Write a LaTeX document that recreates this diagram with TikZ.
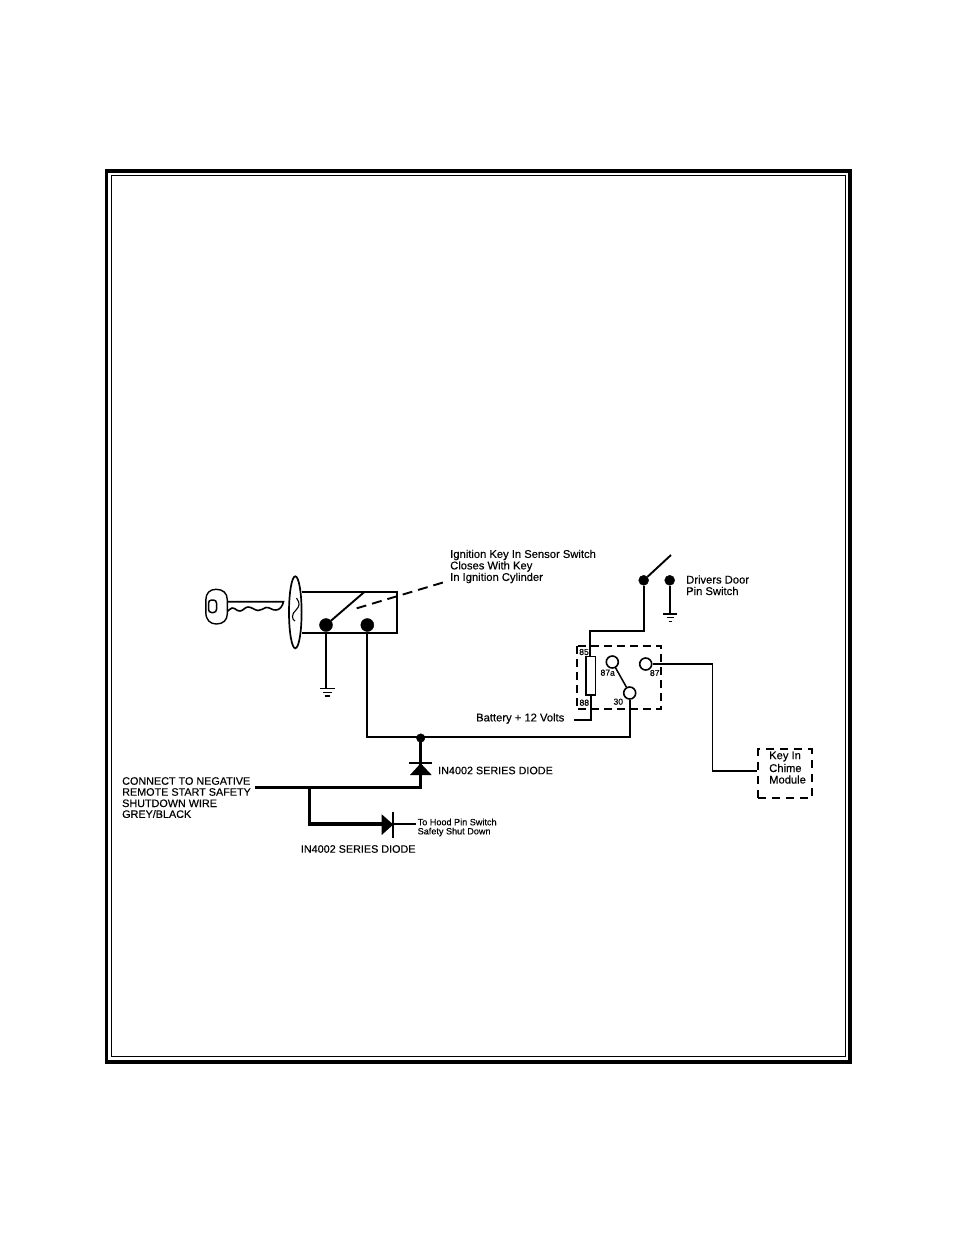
\documentclass[tikz,border=0pt]{standalone}
\usepackage{fontspec}
\setmainfont[FakeBold=0.3]{Liberation Sans}
\begin{document}
\begin{tikzpicture}[x=1pt,y=-1pt,
  wire/.style={draw=black,line width=1.9pt,line join=miter},
  heavy/.style={draw=black,line width=3.2pt,line join=miter},
  thin wire/.style={draw=black,line width=1.5pt},
  bigdot/.style={circle,fill=black,draw=black,inner sep=0,minimum size=13pt},
  smalldot/.style={circle,fill=black,draw=black,inner sep=0,minimum size=10pt},
  contact/.style={circle,fill=white,draw=black,line width=1.6pt,inner sep=0,minimum size=12pt},
  lbl/.style={inner sep=0,anchor=west,font=\fontsize{11.2}{12}\selectfont},
  capslbl/.style={inner sep=0,anchor=west,font=\fontsize{10.8}{12}\selectfont},
  lblsmall/.style={inner sep=0,anchor=west,font=\fontsize{9.1}{10}\selectfont},
  pinlbl/.style={inner sep=0,font=\fontsize{8.6}{10}\selectfont},
  ground/.style={draw=black,line width=1.4pt}]
\useasboundingbox (0,0) rectangle (954,1235);
% frame
\draw[line width=3.5pt] (106.5,171) rectangle (850,1062);
\draw[line width=1pt] (111,175) rectangle (845,1056);

% key
\draw[line width=1.4pt,fill=white]
  (216,589.3) .. controls (223,589.3) and (227.3,593) .. (227.3,600)
  -- (227.3,614) .. controls (227.3,620) and (223,624) .. (216.5,624)
  .. controls (210,624) and (205.8,620) .. (205.8,612)
  -- (205.8,600) .. controls (205.8,593) and (210,589.3) .. (216,589.3) -- cycle;
\draw[line width=1.5pt,rounded corners=3pt] (208.5,600) rectangle (216.5,612.5);
\draw[line width=1.6pt] (227.3,601.7) -- (283.5,601.7)
  .. controls (282.5,606) and (280,610) .. (276,610)
  .. controls (272,610.5) and (270,607) .. (266,607.5)
  .. controls (263,608) and (261,611) .. (258,610.5)
  .. controls (254,610) and (252,607) .. (248,607)
  .. controls (245,607) and (243,611) .. (240,611)
  .. controls (236,611) and (236,608) .. (232,608)
  .. controls (230,608) and (229,611) .. (227.3,611.5);

% ignition cylinder
\draw[line width=1.7pt,fill=white] (295.3,612.3) ellipse [x radius=6.3,y radius=36];
\draw[line width=1.1pt] (296.5,598) .. controls (300,603) and (300,606) .. (296,610)
  .. controls (291,614) and (292,620) .. (295,621);
\draw[line width=1.8pt] (302,592) -- (396.7,592) -- (396.7,633.3) -- (302,633.3);

% ignition switch
\node[bigdot] (ig1) at (326,625) {};
\node[bigdot] (ig2) at (367.3,625) {};
\coordinate (igtop) at (364.3,592);
\draw[wire] (ig1) -- (igtop);
\coordinate (igdashA) at (356.7,608.3);
\coordinate (igdashB) at (448,581);
\draw[line width=1.9pt,dash pattern=on 10pt off 6pt] (igdashA) -- (igdashB);

% ignition ground
\coordinate (gnd1) at (326,688.5);
\draw[thin wire] (ig1) -- (gnd1);
\draw[ground] (320,688.5) -- (335,688.5);
\draw[ground] (323,692.5) -- (332,692.5);
\draw[ground] (324.5,695.8) -- (330,695.8);

% main bus
\coordinate (busL) at (367.3,737);
\node[smalldot,minimum size=8.5pt] (junc) at (420.7,738) {};
\node[contact] (c30) at (629.7,693) {};
\coordinate (busR) at (629.7,737);
\draw[wire] (ig2) -- (busL) -- (busR) -- (c30);

% diode 1
\coordinate (d1bend) at (420.7,787.7);
\coordinate (wireL) at (255,787.7);
\coordinate (branch) at (309.3,787.7);
\draw[heavy] (junc) -- (d1bend) -- (wireL);
\draw[line width=2.2pt] (409,763.3) -- (432,763.3);
\fill (420.7,763.3) -- (431.7,775) -- (410,775) -- cycle;

% diode 2
\coordinate (d2corner) at (309.3,824);
\coordinate (d2end) at (416,824);
\draw[heavy] (branch) -- (d2corner) -- (382,824);
\draw[line width=1.8pt] (382,824) -- (d2end);
\fill (393.3,824.5) -- (381.7,814.3) -- (381.7,835) -- cycle;
\draw[line width=2.2pt] (393.3,811.7) -- (393.3,837.7);

% door switch
\node[smalldot] (ds1) at (643.7,580.3) {};
\node[smalldot] (ds2) at (669.7,580.3) {};
\coordinate (dstop) at (671,555);
\draw[wire] (ds1) -- (dstop);
\coordinate (dsbend) at (643.7,630.7);
\coordinate (relaytop) at (590.3,630.7);
\coordinate (gnd2) at (669.7,614);
\draw[wire] (ds2) -- (gnd2);
\draw[ground] (663.3,614) -- (676.7,614);
\draw[ground] (666.7,617.7) -- (674,617.7);
\draw[ground] (668.7,621.7) -- (672.3,621.7);

% relay
\draw[line width=1.8pt,dash pattern=on 8pt off 5pt] (576.7,646) rectangle (661,709.3);
\node[draw=black,line width=1.6pt,minimum width=9.3pt,minimum height=38.3pt,inner sep=0,fill=white] (coil) at (590.7,675.8) {};
\coordinate (coilbot) at (590.7,720);
\coordinate (batt) at (574,720);
\draw[wire] (ds1) -- (dsbend) -- (relaytop) -- (coil.north -| relaytop);
\draw[wire] (coil.south) -- (coilbot) -- (batt);
\node[contact] (c87a) at (612.3,662) {};
\node[contact] (c87) at (645.7,664) {};
\draw[thin wire] (c87a) -- (c30);
\node[pinlbl] (p85) at (584,652) {85};
\node[pinlbl] (p87a) at (607.7,672.7) {87a};
\node[pinlbl] (p87) at (654.7,673) {87};
\node[pinlbl] (p88) at (584.3,702.7) {88};
\node[pinlbl] (p30) at (618.3,701.7) {30};

% chime module
\node[draw=black,line width=1.8pt,dash pattern=on 8pt off 6pt,minimum width=53.4pt,minimum height=49pt,inner sep=0] (chime) at (785,773.8) {};
\coordinate (chbend1) at (712.3,664);
\coordinate (chbend2) at (712.3,771);
\draw[thin wire] (c87) -- (chbend1) -- (chbend2) -- (chime.west |- chbend2);
\node[lbl] (t9) at (769,756.5) {Key In};
\node[lbl] (t10) at (769,768) {Chime};
\node[lbl] (t11) at (769,779.5) {Module};

% labels
\node[lbl] (t1) at (450,555) {Ignition Key In Sensor Switch};
\node[lbl] (t2) at (450,566.5) {Closes With Key};
\node[lbl] (t3) at (450,578) {In Ignition Cylinder};
\node[lbl] (t4) at (686,579.5) {Drivers Door};
\node[lbl] (t5) at (686,591) {Pin Switch};
\node[lbl] (t6) at (476,718.5) {Battery + 12 Volts};
\node[capslbl] (t7) at (438,770.5) {IN4002 SERIES DIODE};
\node[capslbl] (t8) at (300.7,849) {IN4002 SERIES DIODE};
\node[capslbl] (t12) at (122,781) {CONNECT TO NEGATIVE};
\node[capslbl] (t13) at (122,792) {REMOTE START SAFETY};
\node[capslbl] (t14) at (122,803.3) {SHUTDOWN WIRE};
\node[capslbl] (t15) at (122,814) {GREY/BLACK};
\node[lblsmall] (t16) at (417.5,822) {To Hood Pin Switch};
\node[lblsmall] (t17) at (417.5,832) {Safety Shut Down};
\end{tikzpicture}
\end{document}
